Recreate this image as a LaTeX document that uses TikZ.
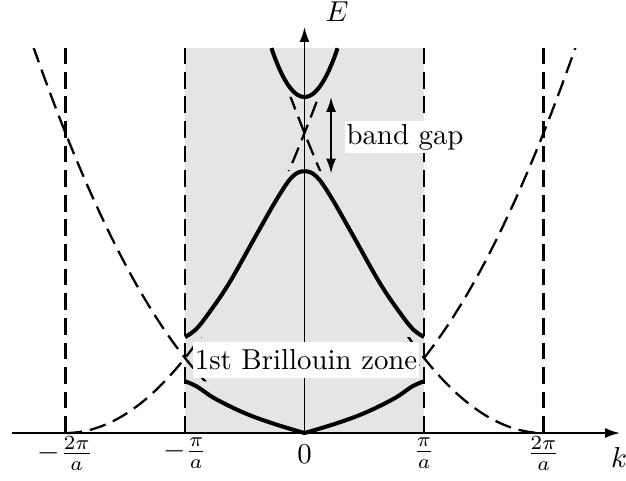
\documentclass[tikz,border=0pt]{standalone}
\usepackage{amsmath}
\usepackage{xcolor}
\usepackage{tikz}
\usetikzlibrary{arrows.meta}

\tikzset{
  band/.style={line width=2.3pt, line join=round},
  freeel/.style={line width=1.3pt, dash pattern=on 9.5pt off 4.5pt},
  zoneline/.style={line width=1.4pt, dash pattern=on 9.5pt off 4.5pt},
  axis/.style={line width=1.1pt, -{Latex[length=8.5pt,width=5.7pt]}},
  boxlabel/.style={fill=white, inner xsep=0.6pt}
}

\begin{document}
\begin{tikzpicture}[x=2.39cm, y=1.5cm, every node/.style={scale=1.64}]
            \useasboundingbox (-2.548,-0.627) rectangle (2.690,5.773);
            % first zone
            \fill[gray!20] (-1,0) rectangle (1,5.133);

            % free electron parabolas
            \begin{scope}
                \clip (-2.6,-0.1) rectangle (-1,5.133)
                      (1,-0.1) rectangle (2.7,5.133)
                      (-1,0.69) rectangle (1,1.28)
                      (-1,3.49) rectangle (1,4.48);
                \draw[freeel] plot[domain=-2.27:2.27, samples=90] (\x,{(\x)^2});
                \draw[freeel] plot[domain=-2:0.4, samples=60] (\x,{(\x+2)^2});
                \draw[freeel] plot[domain=-0.4:2, samples=60] (\x,{(\x-2)^2});
            \end{scope}
            \foreach \t in {-2,-1,1,2}
                \draw[zoneline] (\t,0) -- (\t,5.133);

            % bands
            \draw[band] plot[smooth, tension=0.6] coordinates {(-1,0.69) (-0.9,0.62) (-0.75,0.46) (-0.5,0.265) (-0.25,0.12) (0,0)}
                -- plot[smooth, tension=0.6] coordinates {(0,0) (0.25,0.12) (0.5,0.265) (0.75,0.46) (0.9,0.62) (1,0.69)};
            \draw[band] plot[smooth, tension=0.6] coordinates {(-1,1.28) (-0.91,1.38) (-0.8,1.6) (-0.63,2.0) (-0.4,2.65) (-0.22,3.15) (-0.1,3.42) (0,3.49)
                (0.1,3.42) (0.22,3.15) (0.4,2.65) (0.63,2.0) (0.8,1.6) (0.91,1.38) (1,1.28)};
            \draw[band] plot[domain=-0.277:0.277, samples=40] (\x,{4.48+8.5*(\x)^2});

            % axes
            \coordinate (kstart) at (-2.448,0);
            \coordinate (kend) at (2.64,0);
            \coordinate (eorig) at (0,0);
            \coordinate (etop) at (0,5.413);
            \draw[axis] (kstart) -- (kend);
            \draw[axis] (eorig) -- (etop);
            \node (klab) at (2.632,-0.32) {$k$};
            \node (elab) at (0.272,5.613) {$E$};

            % ticks
            \node (tmtwo) at (-2,-0.27) {$-\frac{2\pi}{a}$};
            \node (tmone) at (-1,-0.27) {$-\frac{\pi}{a}$};
            \node (tzero) at (0,-0.28) {$0$};
            \node (tpone) at (1,-0.27) {$\frac{\pi}{a}$};
            \node (tptwo) at (2,-0.27) {$\frac{2\pi}{a}$};

            % band gap
            \coordinate (gaptop) at (0.222,4.48);
            \coordinate (gapbot) at (0.222,3.46);
            \draw[line width=1.1pt, {Latex[length=8.5pt,width=5.7pt]}-{Latex[length=8.5pt,width=5.7pt]}] (gaptop) -- (gapbot);
            \node[boxlabel, inner ysep=1pt] (gap) at (0.841,3.947) {band gap};
            \node[boxlabel, inner ysep=2.7pt] (bz) at (0.013,0.973) {1st Brillouin zone};
        \end{tikzpicture}
\end{document}
